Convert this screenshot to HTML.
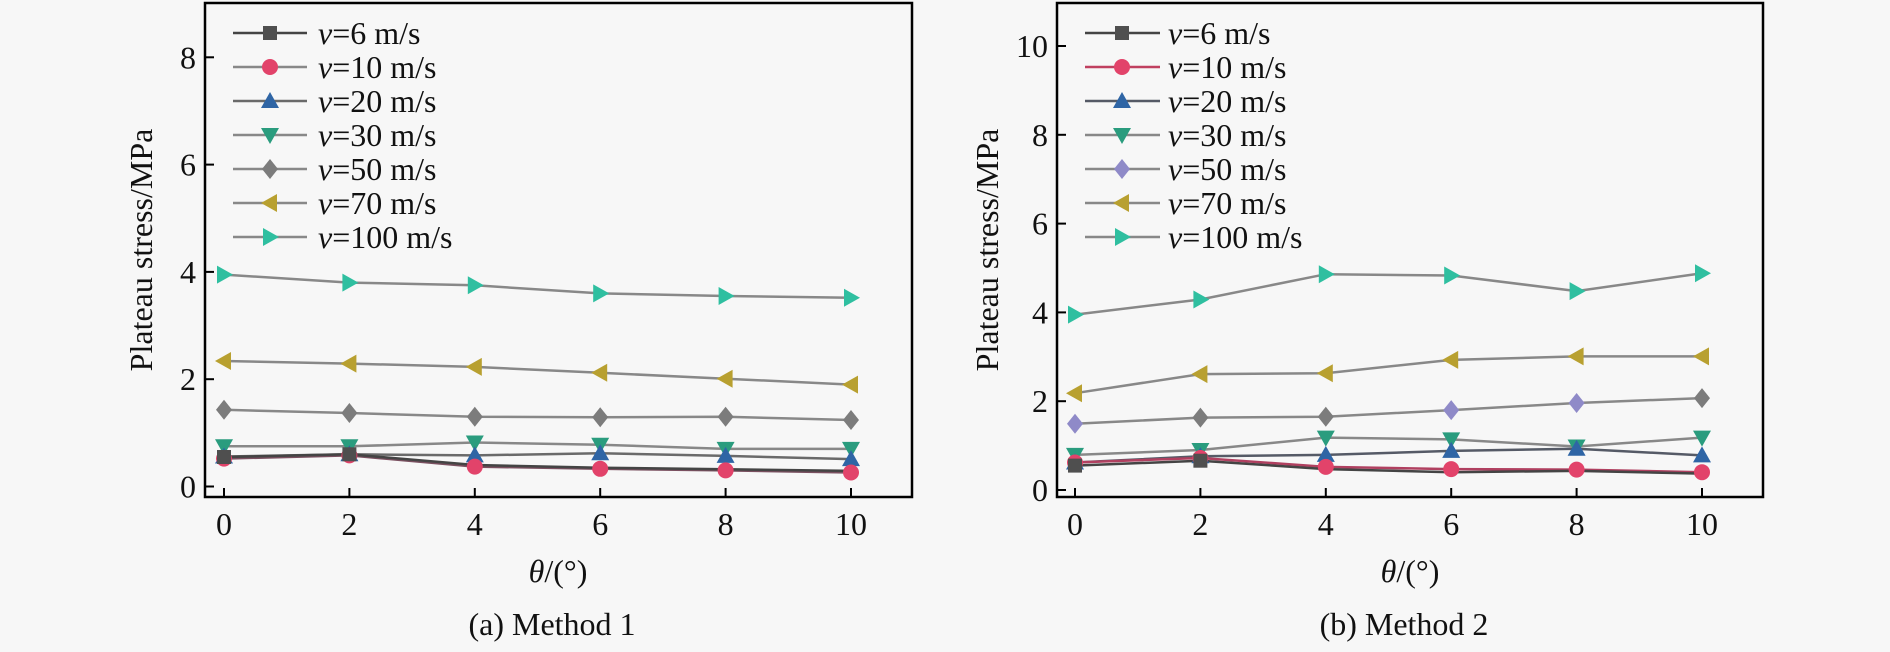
<!DOCTYPE html>
<html><head><meta charset="utf-8"><style>
html,body{margin:0;padding:0;background:#f7f7f7;}
svg{display:block;}
text{font-family:"Liberation Serif","Times New Roman",serif;fill:#111;}
</style></head><body>
<svg width="1890" height="652" viewBox="0 0 1890 652" xmlns="http://www.w3.org/2000/svg">
<defs>
<rect id="sq" x="-7" y="-7" width="14" height="14" fill="#4f4f4f"/>
<circle id="ci" r="8" fill="#e2436a"/>
<polygon id="tu" points="0,-9 9,7 -9,7" fill="#2f65a5"/>
<polygon id="td" points="-9,-7 9,-7 0,9" fill="#2a9c7e"/>
<polygon id="di" points="0,-10 8,0 0,10 -8,0" fill="#7c7c7c"/>
<polygon id="dp" points="0,-10 8,0 0,10 -8,0" fill="#8f8ac8"/>
<polygon id="tl" points="-9,0 7,-9 7,9" fill="#b8a030"/>
<polygon id="tr" points="9,0 -7,-9 -7,9" fill="#2fbfa0"/>
</defs>
<rect width="1890" height="652" fill="#f7f7f7"/>

<!-- ================= LEFT CHART ================= -->
<g fill="none" stroke-width="2.5">
<polyline stroke="#888" points="224,446.3 349.4,446.3 474.8,442.5 600.2,444.7 725.6,448.9 851,448.9"/>
<polyline stroke="#6a6a6a" points="224,456.5 349.4,454.3 474.8,455.4 600.2,453.2 725.6,455.9 851,459.1"/>
<polyline stroke="#7a5060" points="224,458.6 349.4,455.4 474.8,466.6 600.2,468.8 725.6,470.4 851,472.5"/>
<polyline stroke="#444" points="224,457 349.4,454.3 474.8,465 600.2,467.7 725.6,469.3 851,470.9"/>
<polyline stroke="#888" points="224,409.8 349.4,413 474.8,416.8 600.2,417.3 725.6,416.8 851,420"/>
<polyline stroke="#888" points="224,361 349.4,363.6 474.8,366.9 600.2,372.8 725.6,378.7 851,384.6"/>
<polyline stroke="#888" points="224,274.6 349.4,282.6 474.8,285.3 600.2,293.4 725.6,296 851,297.7"/>
</g>
<g>
<use href="#td" x="224" y="446.3"/><use href="#td" x="349.4" y="446.3"/><use href="#td" x="474.8" y="442.5"/><use href="#td" x="600.2" y="444.7"/><use href="#td" x="725.6" y="448.9"/><use href="#td" x="851" y="448.9"/>
<use href="#tu" x="224" y="456.5"/><use href="#tu" x="349.4" y="454.3"/><use href="#tu" x="474.8" y="455.4"/><use href="#tu" x="600.2" y="453.2"/><use href="#tu" x="725.6" y="455.9"/><use href="#tu" x="851" y="459.1"/>
<use href="#ci" x="224" y="458.6"/><use href="#ci" x="349.4" y="455.4"/><use href="#ci" x="474.8" y="466.6"/><use href="#ci" x="600.2" y="468.8"/><use href="#ci" x="725.6" y="470.4"/><use href="#ci" x="851" y="472.5"/>
<use href="#sq" x="224" y="457"/><use href="#sq" x="349.4" y="454.3"/>
<use href="#di" x="224" y="409.8"/><use href="#di" x="349.4" y="413"/><use href="#di" x="474.8" y="416.8"/><use href="#di" x="600.2" y="417.3"/><use href="#di" x="725.6" y="416.8"/><use href="#di" x="851" y="420"/>
<use href="#tl" x="224" y="361"/><use href="#tl" x="349.4" y="363.6"/><use href="#tl" x="474.8" y="366.9"/><use href="#tl" x="600.2" y="372.8"/><use href="#tl" x="725.6" y="378.7"/><use href="#tl" x="851" y="384.6"/>
<use href="#tr" x="224" y="274.6"/><use href="#tr" x="349.4" y="282.6"/><use href="#tr" x="474.8" y="285.3"/><use href="#tr" x="600.2" y="293.4"/><use href="#tr" x="725.6" y="296"/><use href="#tr" x="851" y="297.7"/>
</g>
<!-- frame -->
<rect x="205" y="3" width="707" height="494" fill="none" stroke="#000" stroke-width="2.5"/>
<g stroke="#000" stroke-width="2">
<line x1="205" y1="486.5" x2="214" y2="486.5"/><line x1="205" y1="379.2" x2="214" y2="379.2"/><line x1="205" y1="271.9" x2="214" y2="271.9"/><line x1="205" y1="164.6" x2="214" y2="164.6"/><line x1="205" y1="57.3" x2="214" y2="57.3"/>
<line x1="224" y1="497" x2="224" y2="488"/><line x1="349.4" y1="497" x2="349.4" y2="488"/><line x1="474.8" y1="497" x2="474.8" y2="488"/><line x1="600.2" y1="497" x2="600.2" y2="488"/><line x1="725.6" y1="497" x2="725.6" y2="488"/><line x1="851" y1="497" x2="851" y2="488"/>
</g>
<g font-size="32" text-anchor="end">
<text x="196" y="497.5">0</text><text x="196" y="390.2">2</text><text x="196" y="282.9">4</text><text x="196" y="175.6">6</text><text x="196" y="68.3">8</text>
</g>
<g font-size="32" text-anchor="middle">
<text x="224" y="535">0</text><text x="349.4" y="535">2</text><text x="474.8" y="535">4</text><text x="600.2" y="535">6</text><text x="725.6" y="535">8</text><text x="851" y="535">10</text>
<text x="558" y="582"><tspan font-style="italic">θ</tspan>/(°)</text>
<text x="552" y="635">(a) Method 1</text>
<text x="0" y="0" transform="translate(152,250) rotate(-90)">Plateau stress/MPa</text>
</g>
<!-- legend left -->
<g stroke-width="2.5">
<line x1="233" y1="33" x2="307" y2="33" stroke="#444"/>
<line x1="233" y1="67" x2="307" y2="67" stroke="#888"/>
<line x1="233" y1="101" x2="307" y2="101" stroke="#6a6a6a"/>
<line x1="233" y1="135" x2="307" y2="135" stroke="#888"/>
<line x1="233" y1="169" x2="307" y2="169" stroke="#888"/>
<line x1="233" y1="203" x2="307" y2="203" stroke="#888"/>
<line x1="233" y1="237" x2="307" y2="237" stroke="#888"/>
</g>
<use href="#sq" x="270" y="33"/><use href="#ci" x="270" y="67"/><use href="#tu" x="270" y="101"/><use href="#td" x="270" y="135"/><use href="#di" x="270" y="169"/><use href="#tl" x="270" y="203"/><use href="#tr" x="270" y="237"/>
<g font-size="32">
<text x="318" y="44"><tspan font-style="italic">v</tspan>=6 m/s</text>
<text x="318" y="78"><tspan font-style="italic">v</tspan>=10 m/s</text>
<text x="318" y="112"><tspan font-style="italic">v</tspan>=20 m/s</text>
<text x="318" y="146"><tspan font-style="italic">v</tspan>=30 m/s</text>
<text x="318" y="180"><tspan font-style="italic">v</tspan>=50 m/s</text>
<text x="318" y="214"><tspan font-style="italic">v</tspan>=70 m/s</text>
<text x="318" y="248"><tspan font-style="italic">v</tspan>=100 m/s</text>
</g>

<!-- ================= RIGHT CHART ================= -->
<g fill="none" stroke-width="2.5">
<polyline stroke="#888" points="1075,454.9 1200.4,450 1325.8,437.6 1451.2,439.4 1576.6,446.5 1702,437.6"/>
<polyline stroke="#555a66" points="1075,462.5 1200.4,456.3 1325.8,454.9 1451.2,450.9 1576.6,448.7 1702,455.4"/>
<polyline stroke="#b04060" points="1075,462.5 1200.4,458 1325.8,466.9 1451.2,469.1 1576.6,469.6 1702,472.2"/>
<polyline stroke="#444" points="1075,465.6 1200.4,460.7 1325.8,469.1 1451.2,472.2 1576.6,470.9 1702,473.6"/>
<polyline stroke="#888" points="1075,423.8 1200.4,417.6 1325.8,416.7 1451.2,410.1 1576.6,403 1702,398.1"/>
<polyline stroke="#888" points="1075,393.2 1200.4,374.1 1325.8,373.2 1451.2,359.9 1576.6,356.4 1702,356.4"/>
<polyline stroke="#888" points="1075,314.6 1200.4,299.5 1325.8,274.2 1451.2,275.5 1576.6,291.1 1702,273.3"/>
</g>
<g>
<use href="#td" x="1075" y="454.9"/><use href="#td" x="1200.4" y="450"/><use href="#td" x="1325.8" y="437.6"/><use href="#td" x="1451.2" y="439.4"/><use href="#td" x="1576.6" y="446.5"/><use href="#td" x="1702" y="437.6"/>
<use href="#tu" x="1075" y="462.5"/><use href="#tu" x="1200.4" y="456.3"/><use href="#tu" x="1325.8" y="454.9"/><use href="#tu" x="1451.2" y="450.9"/><use href="#tu" x="1576.6" y="448.7"/><use href="#tu" x="1702" y="455.4"/>
<use href="#ci" x="1075" y="462.5"/><use href="#ci" x="1200.4" y="458"/><use href="#ci" x="1325.8" y="466.9"/><use href="#ci" x="1451.2" y="469.1"/><use href="#ci" x="1576.6" y="469.6"/><use href="#ci" x="1702" y="472.2"/>
<use href="#sq" x="1075" y="465.6"/><use href="#sq" x="1200.4" y="460.7"/>
<use href="#dp" x="1075" y="423.8"/><use href="#di" x="1200.4" y="417.6"/><use href="#di" x="1325.8" y="416.7"/><use href="#dp" x="1451.2" y="410.1"/><use href="#dp" x="1576.6" y="403"/><use href="#di" x="1702" y="398.1"/>
<use href="#tl" x="1075" y="393.2"/><use href="#tl" x="1200.4" y="374.1"/><use href="#tl" x="1325.8" y="373.2"/><use href="#tl" x="1451.2" y="359.9"/><use href="#tl" x="1576.6" y="356.4"/><use href="#tl" x="1702" y="356.4"/>
<use href="#tr" x="1075" y="314.6"/><use href="#tr" x="1200.4" y="299.5"/><use href="#tr" x="1325.8" y="274.2"/><use href="#tr" x="1451.2" y="275.5"/><use href="#tr" x="1576.6" y="291.1"/><use href="#tr" x="1702" y="273.3"/>
</g>
<rect x="1057" y="3" width="706" height="494" fill="none" stroke="#000" stroke-width="2.5"/>
<g stroke="#000" stroke-width="2">
<line x1="1057" y1="490" x2="1066" y2="490"/><line x1="1057" y1="401.2" x2="1066" y2="401.2"/><line x1="1057" y1="312.4" x2="1066" y2="312.4"/><line x1="1057" y1="223.6" x2="1066" y2="223.6"/><line x1="1057" y1="134.8" x2="1066" y2="134.8"/><line x1="1057" y1="46" x2="1066" y2="46"/>
<line x1="1075" y1="497" x2="1075" y2="488"/><line x1="1200.4" y1="497" x2="1200.4" y2="488"/><line x1="1325.8" y1="497" x2="1325.8" y2="488"/><line x1="1451.2" y1="497" x2="1451.2" y2="488"/><line x1="1576.6" y1="497" x2="1576.6" y2="488"/><line x1="1702" y1="497" x2="1702" y2="488"/>
</g>
<g font-size="32" text-anchor="end">
<text x="1048" y="501">0</text><text x="1048" y="412.2">2</text><text x="1048" y="323.4">4</text><text x="1048" y="234.6">6</text><text x="1048" y="145.8">8</text><text x="1048" y="57">10</text>
</g>
<g font-size="32" text-anchor="middle">
<text x="1075" y="535">0</text><text x="1200.4" y="535">2</text><text x="1325.8" y="535">4</text><text x="1451.2" y="535">6</text><text x="1576.6" y="535">8</text><text x="1702" y="535">10</text>
<text x="1410" y="582"><tspan font-style="italic">θ</tspan>/(°)</text>
<text x="1404" y="635">(b) Method 2</text>
<text x="0" y="0" transform="translate(998,250) rotate(-90)">Plateau stress/MPa</text>
</g>
<g stroke-width="2.5">
<line x1="1085" y1="33" x2="1160" y2="33" stroke="#444"/>
<line x1="1085" y1="67" x2="1160" y2="67" stroke="#c04060"/>
<line x1="1085" y1="101" x2="1160" y2="101" stroke="#555a66"/>
<line x1="1085" y1="135" x2="1160" y2="135" stroke="#888"/>
<line x1="1085" y1="169" x2="1160" y2="169" stroke="#888"/>
<line x1="1085" y1="203" x2="1160" y2="203" stroke="#888"/>
<line x1="1085" y1="237" x2="1160" y2="237" stroke="#888"/>
</g>
<use href="#sq" x="1122" y="33"/><use href="#ci" x="1122" y="67"/><use href="#tu" x="1122" y="101"/><use href="#td" x="1122" y="135"/><use href="#dp" x="1122" y="169"/><use href="#tl" x="1122" y="203"/><use href="#tr" x="1122" y="237"/>
<g font-size="32">
<text x="1168" y="44"><tspan font-style="italic">v</tspan>=6 m/s</text>
<text x="1168" y="78"><tspan font-style="italic">v</tspan>=10 m/s</text>
<text x="1168" y="112"><tspan font-style="italic">v</tspan>=20 m/s</text>
<text x="1168" y="146"><tspan font-style="italic">v</tspan>=30 m/s</text>
<text x="1168" y="180"><tspan font-style="italic">v</tspan>=50 m/s</text>
<text x="1168" y="214"><tspan font-style="italic">v</tspan>=70 m/s</text>
<text x="1168" y="248"><tspan font-style="italic">v</tspan>=100 m/s</text>
</g>
</svg>
</body></html>
